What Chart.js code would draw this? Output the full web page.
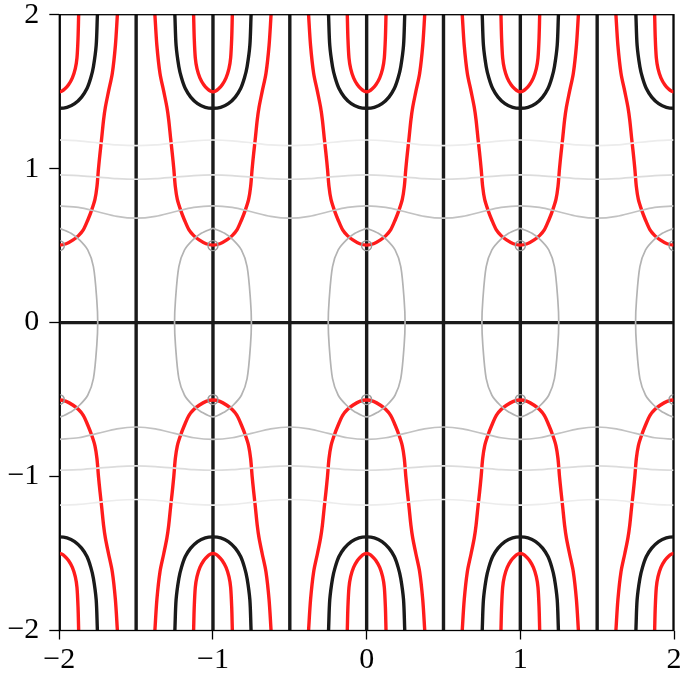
<!DOCTYPE html>
<html>
<head>
<meta charset="utf-8">
<script src="https://cdn.jsdelivr.net/npm/chart.js@4.4.0/dist/chart.umd.min.js"></script>
<style>
  html, body { margin: 0; padding: 0; background: #fff; }
</style>
</head>
<body>
<canvas id="chart" width="685" height="682"></canvas>
<script>
// contour pattern repeats around each integer x
const centers = [-2, -1, 0, 1, 2]
const blackX = [-2, -1.5, -1, -0.5, 0, 0.5, 1, 1.5, 2] // straight black contours
const blackY = [0]
const tickValues = [-2, -1, 0, 1, 2]

// half U shapes, (dx from center, y) read top -> vertex, upper half plane
const innerRedDx = [0.127, 0.126, 0.122, 0.115, 0.104, 0.085, 0.06, 0.035, 0.015, 0]
const innerRedY  = [2.03, 2.0, 1.85, 1.72, 1.65, 1.59, 1.545, 1.517, 1.503, 1.5]

const blackUDx = [0.25, 0.248, 0.24, 0.222, 0.205, 0.18, 0.145, 0.1, 0.05, 0]
const blackUY  = [2.03, 2.0, 1.8, 1.662, 1.59, 1.52, 1.465, 1.422, 1.398, 1.392]

const bigRedDx = [0.38, 0.378, 0.365, 0.345, 0.32, 0.3, 0.288, 0.276, 0.265, 0.255, 0.245, 0.232, 0.211, 0.185, 0.156, 0.125, 0.09, 0.045, 0]
const bigRedY  = [2.03, 2.0, 1.8, 1.62, 1.5, 1.4, 1.316, 1.2, 1.1, 1.0, 0.883, 0.8, 0.732, 0.665, 0.602, 0.565, 0.537, 0.512, 0.503]

// quarter of the gray loop, top -> y = 0
const ovalDx = [0, 0.076, 0.131, 0.185, 0.222, 0.244, 0.25]
const ovalY  = [0.613, 0.58, 0.537, 0.472, 0.364, 0.147, 0]

const dotY = [0.5, -0.5]

// wavy gray lines, half period from integer x to half integer
const waveDx = [0, 0.125, 0.25, 0.375, 0.5]
const wave1Y = [0.758, 0.748, 0.72, 0.69, 0.678]
const wave2Y = [0.959, 0.955, 0.945, 0.935, 0.931]
const wave3Y = [1.186, 1.181, 1.168, 1.154, 1.149]

const RED = '#ff1c1c'
const BLACK = '#1a1a1a'

function uShape(dx, ys, cx, sign) {
  const pts = []
  for (let i = 0; i < dx.length; i++) pts.push({ x: cx - dx[i], y: sign * ys[i] })
  for (let i = dx.length - 2; i >= 0; i--) pts.push({ x: cx + dx[i], y: sign * ys[i] })
  return pts
}

function oval(cx) {
  const n = ovalDx.length
  const pts = []
  for (let i = 0; i < n; i++) pts.push({ x: cx + ovalDx[i], y: ovalY[i] })
  for (let i = n - 2; i >= 0; i--) pts.push({ x: cx + ovalDx[i], y: -ovalY[i] })
  for (let i = 1; i < n; i++) pts.push({ x: cx - ovalDx[i], y: -ovalY[i] })
  for (let i = n - 2; i >= 0; i--) pts.push({ x: cx - ovalDx[i], y: ovalY[i] })
  return pts
}

function wave(ys, sign) {
  const pts = []
  for (let c = -2; c < 2; c++) {
    for (let i = 0; i < waveDx.length; i++) pts.push({ x: c + waveDx[i], y: sign * ys[i] })
    for (let i = waveDx.length - 2; i > 0; i--) pts.push({ x: c + 1 - waveDx[i], y: sign * ys[i] })
  }
  pts.push({ x: 2, y: sign * ys[0] })
  return pts
}

function line(data, color, width) {
  return {
    data: data,
    showLine: true,
    borderColor: color,
    borderWidth: width,
    pointRadius: 0,
    tension: 0.3,
    borderJoinStyle: 'round',
    clip: 0
  }
}

const datasets = []
for (const s of [1, -1]) {
  datasets.push(line(wave(wave3Y, s), '#ececec', 1.7))
  datasets.push(line(wave(wave2Y, s), '#dcdcdc', 1.7))
  datasets.push(line(wave(wave1Y, s), '#c2c2c2', 1.7))
}
centers.forEach(c => datasets.push(line(oval(c), '#b3b3b3', 1.7)))
datasets.push({
  data: centers.flatMap(c => dotY.map(y => ({ x: c, y: y }))),
  showLine: false,
  pointRadius: 5,
  pointBorderWidth: 1.4,
  pointBorderColor: '#9c9c9c',
  pointBackgroundColor: 'rgba(0,0,0,0)',
  clip: 0
})
for (const s of [1, -1]) {
  centers.forEach(c => {
    datasets.push(line(uShape(bigRedDx, bigRedY, c, s), RED, 3.4))
    datasets.push(line(uShape(innerRedDx, innerRedY, c, s), RED, 3.4))
  })
}
for (const s of [1, -1]) {
  centers.forEach(c => datasets.push(line(uShape(blackUDx, blackUY, c, s), BLACK, 3.4)))
}
blackX.forEach(x => datasets.push(line([{ x: x, y: -2.1 }, { x: x, y: 2.1 }], BLACK, 3.4)))
blackY.forEach(y => datasets.push(line([{ x: -2.1, y: y }, { x: 2.1, y: y }], BLACK, 3.4)))

const frame = {
  id: 'frame',
  afterDatasetsDraw(chart) {
    const a = chart.chartArea
    const ctx = chart.ctx
    ctx.save()
    ctx.strokeStyle = '#000'
    ctx.lineWidth = 1.3
    ctx.strokeRect(a.left, a.top, a.right - a.left, a.bottom - a.top)
    ctx.restore()
  }
}

const fmt = v => (v < 0 ? '\u2212' + Math.abs(v) : String(v))
const tickFont = { family: '"Liberation Serif", "DejaVu Serif", serif', size: 30 }
const noPad = s => { s.paddingTop = 0; s.paddingBottom = 0; s.paddingLeft = 0; s.paddingRight = 0 }

new Chart(document.getElementById('chart'), {
  type: 'scatter',
  data: { datasets: datasets },
  options: {
    responsive: false,
    animation: false,
    devicePixelRatio: 1,
    layout: { padding: { top: 14.7, right: 11, left: 0, bottom: 0 } },
    plugins: { legend: { display: false }, tooltip: { enabled: false } },
    scales: {
      x: {
        type: 'linear', min: -2, max: 2,
        afterBuildTicks: s => { s.ticks = tickValues.map(v => ({ value: v })) },
        afterFit: s => { s.height = 51.5; noPad(s) },
        grid: { drawOnChartArea: false, tickLength: 9, tickColor: '#000', tickWidth: 1.3 },
        border: { display: false },
        ticks: { callback: fmt, color: '#000', font: tickFont, padding: 3, maxRotation: 0 }
      },
      y: {
        type: 'linear', min: -2, max: 2,
        afterBuildTicks: s => { s.ticks = tickValues.map(v => ({ value: v })) },
        afterFit: s => { s.width = 59.3; noPad(s) },
        grid: { drawOnChartArea: false, tickLength: 10, tickColor: '#000', tickWidth: 1.3 },
        border: { display: false },
        ticks: { callback: fmt, color: '#000', font: tickFont, padding: 10 }
      }
    }
  },
  plugins: [frame]
})
</script>
</body>
</html>
